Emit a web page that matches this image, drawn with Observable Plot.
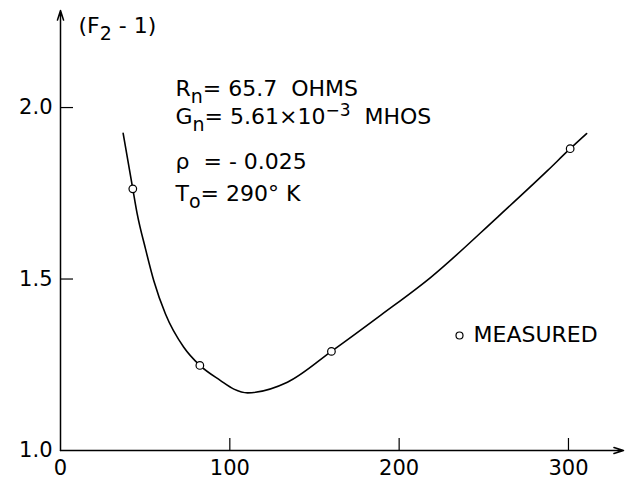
<!DOCTYPE html>
<html><head><meta charset="utf-8">
<script src="https://cdn.jsdelivr.net/npm/d3@7"></script>
<script src="https://cdn.jsdelivr.net/npm/@observablehq/plot@0.6"></script>
<style>body{margin:0;background:#fff} svg text{white-space:pre}</style>
</head><body><div id="chart"></div>
<script>
// ---- data ----
const curveX = [37, 42.7, 45.3, 50.2, 55.1, 62, 72.8, 82.3, 94.5, 102.4, 110.5, 134, 160, 189, 218.7, 258, 287.6, 301, 310.7];
const curveY = [1.925, 1.763, 1.69, 1.588, 1.495, 1.398, 1.301, 1.248, 1.204, 1.179, 1.168, 1.199, 1.289, 1.394, 1.505, 1.68, 1.816, 1.88, 1.924];
const measuredX = [42.7, 82.3, 160, 301];
const measuredY = [1.763, 1.248, 1.289, 1.88];
const xTicks = [0, 100, 200, 300];
const yTicks = [1.0, 1.5, 2.0];
const xMax = 332.5, yMax = 2.283;
const yTitle = "(F_2 - 1)";
const params = ["R_n= 65.7  OHMS", "G_n= 5.61×10^{−3}  MHOS", "ρ  = - 0.025", "T_o= 290° K"];
const legendLabel = "MEASURED";

// ---- helpers for sub/superscript markup ----
function parse(s) {
  const out = []; const re = /([_^])(\{([^}]*)\}|(.))/g; let last = 0, m;
  while ((m = re.exec(s))) {
    if (m.index > last) out.push({t: s.slice(last, m.index), k: null});
    out.push({t: m[3] ?? m[4], k: m[1] === "_" ? "sub" : "sup"});
    last = re.lastIndex;
  }
  if (last < s.length) out.push({t: s.slice(last), k: null});
  return out;
}
const plain = s => parse(s).map(p => p.t).join("");

const curve = curveX.map((x, i) => ({x, y: curveY[i]}));
const measured = measuredX.map((x, i) => ({x, y: measuredY[i]}));
const axesArrows = [{x1: 0, y1: 1, x2: xMax, y2: 1}, {x1: 0, y1: 1, x2: 0, y2: yMax}];

const FS = 22;
const paramDy = [85, 113, 158, 190];

const marks = [
  Plot.arrow(axesArrows, {x1: "x1", y1: "y1", x2: "x2", y2: "y2", headLength: 10, headAngle: 35, strokeWidth: 1.5, stroke: "black"}),
  Plot.tickX(xTicks.filter(d => d > 0), {x: d => d, insetTop: 428, strokeWidth: 1.2, stroke: "black"}),
  Plot.tickY(yTicks.filter(d => d > 1), {y: d => d, insetRight: 550, strokeWidth: 1.2, stroke: "black"}),
  Plot.axisX(xTicks, {tickSize: 0, tickPadding: 10, label: null, fontSize: 21, tickFormat: d => String(d)}),
  Plot.axisY(yTicks, {tickSize: 0, tickPadding: 8, label: null, fontSize: 21, tickFormat: d3.format(".1f")}),
  Plot.line(curve, {x: "x", y: "y", curve: "monotone-x", stroke: "black", strokeWidth: 1.6}),
  Plot.dot(measured, {x: "x", y: "y", r: 3.8, fill: "white", stroke: "black", strokeWidth: 1.2}),
  Plot.text([yTitle], {text: d => plain(d), frameAnchor: "top-left", dx: 18, dy: 22, textAnchor: "start", lineAnchor: "bottom", fontSize: FS}),
  ...params.map((p, i) => Plot.text([p], {text: d => plain(d), frameAnchor: "top-left", dx: 115, dy: paramDy[i], textAnchor: "start", lineAnchor: "bottom", fontSize: FS})),
  Plot.dot([legendLabel], {frameAnchor: "top-left", dx: 399, dy: 325, r: 3.5, fill: "white", stroke: "black", strokeWidth: 1.2}),
  Plot.text([legendLabel], {frameAnchor: "top-left", dx: 413, dy: 324, textAnchor: "start", lineAnchor: "middle", fontSize: FS})
];

const chart = Plot.plot({
  width: 625, height: 481,
  marginLeft: 60, marginRight: 2, marginTop: 10, marginBottom: 31,
  x: {domain: [0, xMax]},
  y: {domain: [1, yMax]},
  style: {fontFamily: "DejaVu Sans", fontSize: FS + "px", background: "white", color: "black"},
  marks
});

// rebuild sub/superscripts as tspans
const markup = new Map([yTitle, ...params].map(s => [plain(s), s]));
const NS = "http://www.w3.org/2000/svg";
chart.querySelectorAll("text").forEach(el => {
  el.setAttribute("xml:space", "preserve");
  const raw = markup.get(el.textContent);
  if (!raw) return;
  el.textContent = "";
  let shift = 0;
  for (const p of parse(raw)) {
    const ts = document.createElementNS(NS, "tspan");
    const target = p.k === "sub" ? 7 : p.k === "sup" ? -8 : 0;
    ts.setAttribute("dy", target - shift);
    shift = target;
    if (p.k) ts.setAttribute("font-size", p.k === "sub" ? 19 : 17);
    ts.textContent = p.t;
    el.appendChild(ts);
  }
});
document.getElementById("chart").appendChild(chart);
</script>
</body></html>
